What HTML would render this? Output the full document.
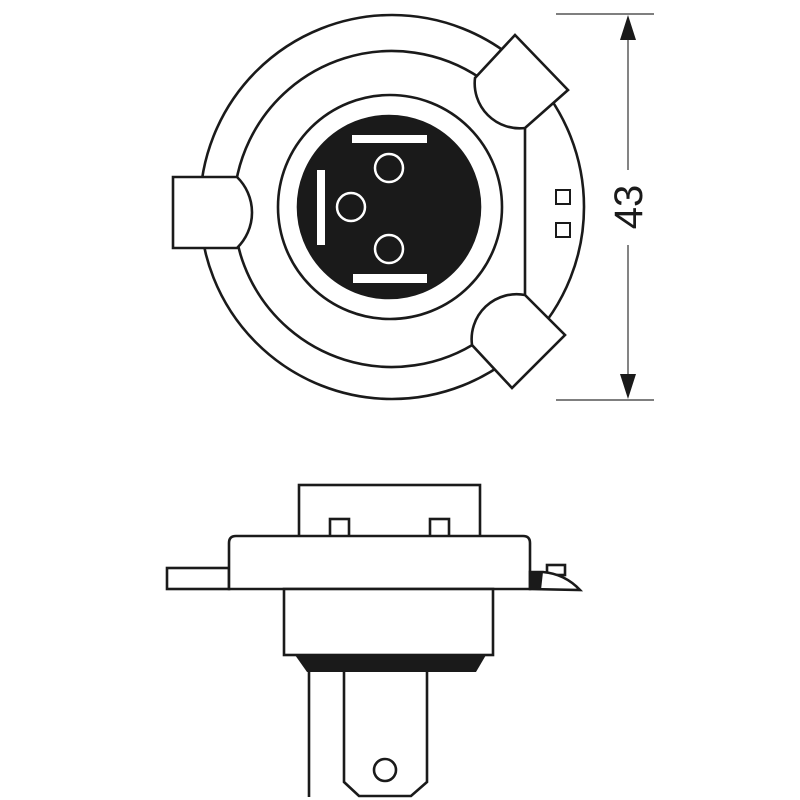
<!DOCTYPE html>
<html><head><meta charset="utf-8"><style>html,body{margin:0;padding:0;background:#fff}svg{display:block}</style></head>
<body>
<svg width="800" height="800" viewBox="0 0 800 800" xmlns="http://www.w3.org/2000/svg">
<g fill="#fff" stroke="#1a1a1a" stroke-width="2.6" stroke-linejoin="miter">
  <circle cx="392" cy="207" r="192"/>
  <path d="M525,124 A158,158 0 1 0 525,294 Z"/>
  <circle cx="390" cy="207" r="112"/>
  <circle cx="389" cy="207" r="91" fill="#1a1a1a"/>
  <path d="M515,35 L568,90 L525,128 A45,45 0 0 1 475,78 Z"/>
  <path d="M525,295 L565,335 L512,388 L472,345 A45,45 0 0 1 525,295 Z"/>
  <path d="M173,177 L237,177 A49.5,49.5 0 0 1 237,248 L173,248 Z"/>
  <rect x="556" y="190" width="14" height="14" stroke-width="2"/>
  <rect x="556" y="223" width="14" height="14" stroke-width="2"/>
</g>
<g fill="#fff" stroke="none">
  <rect x="352" y="135" width="75" height="8"/>
  <rect x="353" y="274" width="74" height="9"/>
  <rect x="317" y="170" width="8" height="75"/>
</g>
<g fill="none" stroke="#fff" stroke-width="2.5">
  <circle cx="389" cy="168" r="14"/>
  <circle cx="351" cy="207" r="14"/>
  <circle cx="389" cy="249" r="14"/>
</g>
<g stroke="#333" stroke-width="1.2" fill="none">
  <line x1="556" y1="14" x2="654" y2="14"/>
  <line x1="556" y1="400" x2="654" y2="400"/>
  <line x1="628" y1="26" x2="628" y2="170"/>
  <line x1="628" y1="245" x2="628" y2="388"/>
</g>
<path d="M628,15 L620,40 L636,40 Z M628,399 L620,374 L636,374 Z" fill="#1a1a1a"/>
<text x="0" y="0" transform="translate(642,207) rotate(-90)" text-anchor="middle" font-family="Liberation Sans, sans-serif" font-size="40" fill="#1a1a1a">43</text>
<g fill="#fff" stroke="#1a1a1a" stroke-width="2.6">
  <rect x="299" y="485" width="181" height="52"/>
  <rect x="330" y="519" width="19" height="18"/>
  <rect x="430" y="519" width="19" height="18"/>
  <rect x="167" y="568" width="62" height="21"/>
  <path d="M229,589 L229,543 Q229,536 236,536 L523,536 Q530,536 530,543 L530,589 Z"/>
  <rect x="547" y="565" width="18" height="10"/>
  <path d="M530,589 L530,572 L543,572 Q565,574 580,590 Z"/>
  <rect x="284" y="589" width="209" height="66"/>
  <path d="M344,672 L344,782 L359,796 L411,796 L427,782 L427,672" />
  <line x1="309" y1="672" x2="309" y2="797"/>
  <circle cx="385" cy="770" r="11"/>
</g>
<path d="M530,572 L543,572 L541,590 L530,590 Z" fill="#1a1a1a"/>
<path d="M295,655 L486,655 L476,672 L307,672 Z" fill="#1a1a1a"/>
</svg>
</body></html>
